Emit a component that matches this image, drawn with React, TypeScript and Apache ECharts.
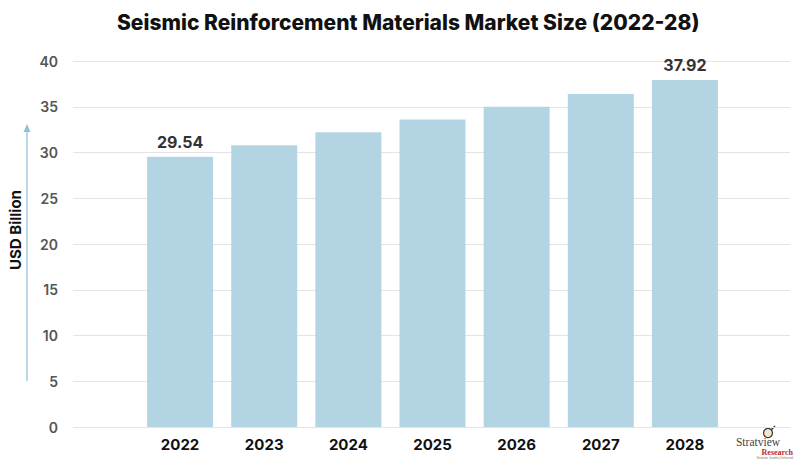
import React, { useEffect, useRef } from "react";
import * as echarts from "echarts";

const years = ["2022", "2023", "2024", "2025", "2026", "2027", "2028"];
const marketSize = [29.54, 30.8, 32.2, 33.6, 35.0, 36.4, 37.92];
const labeledYears = ["2022", "2028"];
const yTicks = { min: 0, max: 40, interval: 5 };

export default function App() {
  const ref = useRef<HTMLDivElement>(null);
  useEffect(() => {
    document.body.style.margin = "0";
    const chart = echarts.init(ref.current!, null, { renderer: "svg" });
    const font = "Inter, 'Open Sans', sans-serif";
    chart.setOption({
      animation: false,
      backgroundColor: "#ffffff",
      title: {
        text: "Seismic Reinforcement Materials Market Size (2022-28)",
        left: 112,
        top: 7,
        textStyle: { fontFamily: font, fontSize: 21, fontWeight: 800, color: "#111111", letterSpacing: 0.45 },
      },
      grid: [
        { left: 73, right: 12, top: 61, bottom: 32 },
        { left: 138, right: 75, top: 61, bottom: 32 },
      ],
      xAxis: [
        { gridIndex: 0, type: "category", data: [""], show: false },
        {
          gridIndex: 1,
          type: "category",
          data: years,
          axisLine: { show: false },
          axisTick: { show: false },
          axisLabel: { fontFamily: font, fontSize: 15, fontWeight: 700, color: "#111111", margin: 10 },
        },
      ],
      yAxis: [
        {
          gridIndex: 0,
          type: "value",
          ...yTicks,
          axisLine: { show: false },
          axisTick: { show: false },
          axisLabel: { fontFamily: font, fontSize: 14, fontWeight: 600, color: "#555555", margin: 15 },
          splitLine: { lineStyle: { color: "#e4e4e4", width: 1 } },
        },
        {
          gridIndex: 1,
          type: "value",
          ...yTicks,
          show: false,
          splitLine: { show: false },
        },
      ],
      series: [
        {
          type: "bar",
          xAxisIndex: 1,
          yAxisIndex: 1,
          barWidth: 66,
          itemStyle: { color: "#b3d5e3" },
          data: marketSize.map((v, i) => ({
            value: v,
            label: {
              show: labeledYears.includes(years[i]),
              position: "top",
              distance: 7,
              formatter: (p: any) => p.value.toFixed(2),
              fontFamily: font,
              fontSize: 16,
              fontWeight: 700,
              color: "#333333",
            },
          })),
        },
      ],
      graphic: [
        {
          type: "line",
          shape: { x1: 27, y1: 130, x2: 27, y2: 381 },
          style: { stroke: "#8fc1d6", lineWidth: 1.2 },
        },
        {
          type: "polygon",
          shape: { points: [[27, 124], [23.5, 132], [30.5, 132]] },
          style: { fill: "#8fc1d6" },
        },
        {
          type: "text",
          x: 15,
          y: 230,
          rotation: Math.PI / 2,
          style: {
            text: "USD Billion",
            font: `700 15px ${font}`,
            fill: "#111111",
            align: "center",
            verticalAlign: "middle",
          },
        },
        {
          type: "circle",
          shape: { cx: 768, cy: 433, r: 4.5 },
          style: { fill: "#f4e6c8", stroke: "#333333", lineWidth: 1.2 },
        },
        {
          type: "line",
          shape: { x1: 771, y1: 430, x2: 775, y2: 426 },
          style: { stroke: "#333333", lineWidth: 1.5 },
        },
        {
          type: "text",
          x: 758,
          y: 442,
          style: {
            text: "Stratview",
            font: "11.5px 'Liberation Serif', serif",
            fill: "#444444",
            align: "center",
            verticalAlign: "middle",
          },
        },
        {
          type: "text",
          x: 793,
          y: 452,
          style: {
            text: "Research",
            font: "700 8px 'Liberation Serif', serif",
            fill: "#c0282d",
            align: "right",
            verticalAlign: "middle",
          },
        },
        {
          type: "text",
          x: 793,
          y: 457.5,
          style: {
            text: "Strategic Insights Delivered",
            font: "3px sans-serif",
            fill: "#777777",
            align: "right",
            verticalAlign: "middle",
          },
        },
      ],
    });
    return () => chart.dispose();
  }, []);
  return <div ref={ref} style={{ width: 802, height: 459, position: "absolute", left: 0, top: 0 }} />;
}
